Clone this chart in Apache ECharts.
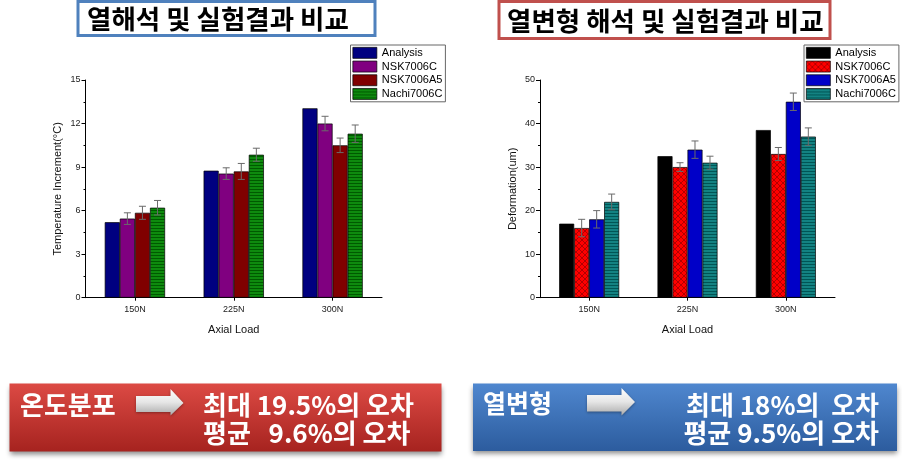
<!DOCTYPE html>
<html><head><meta charset="utf-8">
<script src="https://cdn.jsdelivr.net/npm/echarts@6/dist/echarts.min.js"></script>
<style>html,body{margin:0;padding:0;background:#fff}#c{width:902px;height:467px}</style>
</head><body><div id="c"></div>
<script>
// ---- data ----
const categories = ['150N', '225N', '300N'];
const seriesNames = ['Analysis', 'NSK7006C', 'NSK7006A5', 'Nachi7006C'];
// Left chart: temperature increment (°C)
const tempAnalysis = [5.2, 8.75, 13.05];
const tempNSK7006C = [5.45, 8.55, 12.0];
const tempNSK7006A5 = [5.85, 8.7, 10.5];
const tempNachi7006C = [6.2, 9.85, 11.3];
const tempErrNSK7006C = [0.4, 0.4, 0.5];
const tempErrNSK7006A5 = [0.45, 0.55, 0.5];
const tempErrNachi7006C = [0.5, 0.45, 0.6];
// Right chart: deformation (um)
const defAnalysis = [17, 32.5, 38.5];
const defNSK7006C = [16, 30, 33];
const defNSK7006A5 = [18, 34, 45];
const defNachi7006C = [22, 31, 37];
const defErrNSK7006C = [2, 1, 1.5];
const defErrNSK7006A5 = [2, 2, 2];
const defErrNachi7006C = [1.8, 1.5, 2];
// axis ticks
const tempTicks = {min: 0, max: 15, interval: 3};
const defTicks = {min: 0, max: 50, interval: 10};

// ---- patterns ----
function hLines(base, line) {
  const c = document.createElement('canvas'); c.width = 4; c.height = 3;
  const g = c.getContext('2d'); g.fillStyle = base; g.fillRect(0, 0, 4, 3);
  g.fillStyle = line; g.fillRect(0, 0, 4, 1);
  return {image: c, repeat: 'repeat'};
}
function crossHatch(base, line) {
  const c = document.createElement('canvas'); c.width = 6; c.height = 6;
  const g = c.getContext('2d'); g.fillStyle = base; g.fillRect(0, 0, 6, 6);
  g.strokeStyle = line; g.lineWidth = 0.8;
  g.beginPath(); g.moveTo(0, 0); g.lineTo(6, 6); g.moveTo(6, 0); g.lineTo(0, 6); g.stroke();
  return {image: c, repeat: 'repeat'};
}
const leftColors = ['#000080', '#800080', '#800000', hLines('#0e8a0e', '#005a00')];
const rightColors = ['#000000', crossHatch('#ff0000', '#a00000'), '#0000c8', hLines('#138282', '#005555')];

const FONT = 'Liberation Sans, Arial, sans-serif';
const KR = 'Noto Sans CJK KR';

function yAxisCfg(grid, ticks, name) {
  return {
    type: 'value', gridIndex: grid, min: ticks.min, max: ticks.max, interval: ticks.interval,
    name: name, nameLocation: 'middle', nameGap: 22,
    nameTextStyle: {fontFamily: FONT, fontSize: 11, color: '#111'},
    axisLine: {show: true, lineStyle: {color: '#000', width: 1}},
    axisTick: {show: true, inside: false, length: 4, lineStyle: {color: '#000'}},
    minorTick: {show: true, splitNumber: 2, length: 2, lineStyle: {color: '#000'}},
    axisLabel: {fontFamily: FONT, fontSize: 9, color: '#222', margin: 5},
    splitLine: {show: false}
  };
}
function xAxisCfg(grid) {
  return {
    type: 'category', gridIndex: grid, data: categories,
    name: 'Axial Load', nameLocation: 'middle', nameGap: 27,
    nameTextStyle: {fontFamily: FONT, fontSize: 11, color: '#111'},
    axisLine: {lineStyle: {color: '#000', width: 1}},
    axisTick: {show: true, alignWithLabel: true, length: 3, lineStyle: {color: '#000'}},
    axisLabel: {fontFamily: FONT, fontSize: 9, color: '#222', margin: 7}
  };
}

function barSeries(grid, name, data, color) {
  return {
    type: 'bar', name: name, xAxisIndex: grid, yAxisIndex: grid, data: data,
    barGap: '0%', barCategoryGap: '39%',
    itemStyle: {color: color, borderColor: '#000', borderWidth: 0.7},
    emphasis: {disabled: true}
  };
}
function errSeries(grid, idx, vals, errs) {
  const data = vals.map((v, i) => [i, v, errs[i]]);
  return {
    type: 'custom', xAxisIndex: grid, yAxisIndex: grid, z: 5, silent: true,
    data: data, encode: {x: 0, y: 1},
    renderItem: function (params, api) {
      const ci = api.value(0), v = api.value(1), e = api.value(2);
      const band = api.size([1, 0])[0];
      const bw = band * 0.61 / 4;
      const cx = api.coord([ci, v])[0] + (idx - 1.5) * bw;
      const yt = api.coord([ci, v + e])[1];
      const yb = api.coord([ci, v - e])[1];
      const cap = 3.5;
      const st = {stroke: '#6a6a6a', lineWidth: 1};
      return {type: 'group', children: [
        {type: 'line', shape: {x1: cx, y1: yt, x2: cx, y2: yb}, style: st},
        {type: 'line', shape: {x1: cx - cap, y1: yt, x2: cx + cap, y2: yt}, style: st},
        {type: 'line', shape: {x1: cx - cap, y1: yb, x2: cx + cap, y2: yb}, style: st}
      ]};
    }
  };
}

const leftVals = [tempAnalysis, tempNSK7006C, tempNSK7006A5, tempNachi7006C];
const rightVals = [defAnalysis, defNSK7006C, defNSK7006A5, defNachi7006C];
const series = [];
seriesNames.forEach((n, i) => series.push(barSeries(0, n + '|L', leftVals[i], leftColors[i])));
seriesNames.forEach((n, i) => series.push(barSeries(1, n + '|R', rightVals[i], rightColors[i])));
series.push(errSeries(0, 1, tempNSK7006C, tempErrNSK7006C));
series.push(errSeries(0, 2, tempNSK7006A5, tempErrNSK7006A5));
series.push(errSeries(0, 3, tempNachi7006C, tempErrNachi7006C));
series.push(errSeries(1, 1, defNSK7006C, defErrNSK7006C));
series.push(errSeries(1, 2, defNSK7006A5, defErrNSK7006A5));
series.push(errSeries(1, 3, defNachi7006C, defErrNachi7006C));

function legendCfg(left, suffix) {
  return {
    orient: 'vertical', left: left, top: 45,
    data: seriesNames.map(n => n + suffix),
    formatter: s => s.split('|')[0],
    icon: 'rect', itemWidth: 24, itemHeight: 11, itemGap: 2,
    padding: [2, 3, 2, 2], borderColor: '#666', borderWidth: 1, backgroundColor: '#fff',
    selectedMode: false,
    textStyle: {fontFamily: FONT, fontSize: 11, color: '#000', lineHeight: 11},
    itemStyle: {borderColor: '#000', borderWidth: 0.7}
  };
}

function arrow(x0, xh, xt, yb1, yb2, yh1, yh2, yc) {
  return {
    type: 'polygon', z: 10,
    shape: {points: [[x0, yb1], [xh, yb1], [xh, yh1], [xt, yc], [xh, yh2], [xh, yb2], [x0, yb2]]},
    style: {
      fill: new echarts.graphic.LinearGradient(0, 0, 0, 1, [
        {offset: 0, color: '#ffffff'}, {offset: 0.5, color: '#e6e6e6'}, {offset: 1, color: '#a9a9a9'}]),
      shadowBlur: 3, shadowColor: 'rgba(0,0,0,0.35)', shadowOffsetY: 1
    }
  };
}
function krText(x, y, text, size, color, align) {
  return {type: 'text', z: 10, x: x, y: y,
    style: {text: text, fontFamily: KR, fontWeight: 'bold', fontSize: size, fill: color,
      align: align || 'left', verticalAlign: 'middle'}};
}

const graphic = [
  // title boxes
  {type: 'rect', shape: {x: 78, y: 1.5, width: 297, height: 34}, style: {fill: '#fff', stroke: '#4f81bd', lineWidth: 3}},
  krText(87, 19, '열해석 및 실험결과 비교', 26.5, '#000'),
  {type: 'rect', shape: {x: 499, y: 1.5, width: 331, height: 37}, style: {fill: '#fff', stroke: '#c0504d', lineWidth: 3}},
  krText(507, 20.5, '열변형 해석 및 실험결과 비교', 26.5, '#000'),
  // bottom left red box
  {type: 'rect', shape: {x: 9.5, y: 383.5, width: 432, height: 68},
    style: {fill: new echarts.graphic.LinearGradient(0, 0, 0, 1, [
      {offset: 0, color: '#dc4a44'}, {offset: 1, color: '#a6231f'}]),
      shadowBlur: 5, shadowColor: 'rgba(0,0,0,0.45)', shadowOffsetY: 3}},
  krText(20, 405, '온도분포', 26, '#fff'),
  arrow(136, 170.5, 183.5, 396, 412, 389, 415.5, 403),
  krText(203, 405, '최대 19.5%의 오차', 26, '#fff'),
  krText(203, 433, '평균   9.6%의 오차', 26, '#fff'),
  // bottom right blue box
  {type: 'rect', shape: {x: 473, y: 383.5, width: 424, height: 67.5},
    style: {fill: new echarts.graphic.LinearGradient(0, 0, 0, 1, [
      {offset: 0, color: '#4f87cf'}, {offset: 1, color: '#2c5c9e'}]),
      shadowBlur: 5, shadowColor: 'rgba(0,0,0,0.45)', shadowOffsetY: 3}},
  krText(483, 403, '열변형', 25, '#fff'),
  arrow(587, 621.5, 635, 395, 411.5, 388, 415.5, 402),
  krText(879, 405, '최대 18%의  오차', 26, '#fff', 'right'),
  krText(879, 433, '평균 9.5%의 오차', 26, '#fff', 'right')
];

const chart = echarts.init(document.getElementById('c'), null, {renderer: 'canvas'});
chart.setOption({
  animation: false,
  backgroundColor: '#fff',
  grid: [
    {left: 85.5, right: 520, top: 80, bottom: 169.3},
    {left: 540, right: 67, top: 80, bottom: 169.3}
  ],
  xAxis: [xAxisCfg(0), xAxisCfg(1)],
  yAxis: [yAxisCfg(0, tempTicks, 'Temperature Increment(°C)'), yAxisCfg(1, defTicks, 'Deformation(um)')],
  legend: [legendCfg(350.5, '|L'), legendCfg(804, '|R')],
  series: series,
  graphic: graphic
});
</script></body></html>
